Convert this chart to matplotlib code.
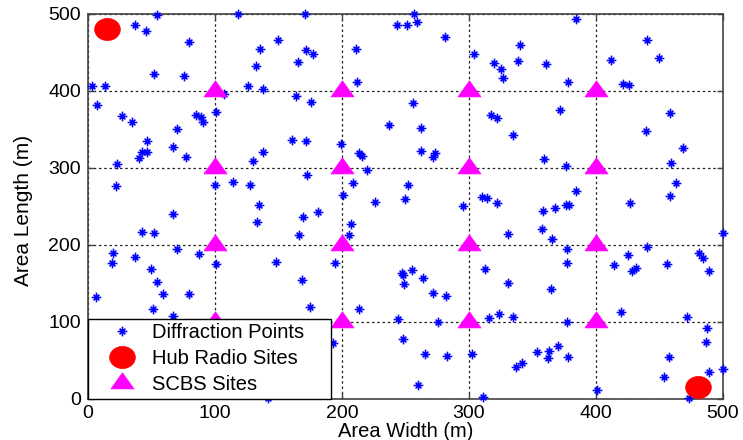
import numpy as np
import matplotlib
matplotlib.use("Agg")
import matplotlib.pyplot as plt
from matplotlib.path import Path

plt.rcParams['font.family'] = ['Liberation Sans', 'DejaVu Sans']

# Diffraction points (x, y) in metres
diff_x = [54.6, 37, 45.7, 79.5, 52, 75.3, 2.9, 13.4, 7.1, 26.5, 34.6, 69.8, 85, 88.7, 90.8,
          100.5, 107, 118, 135.4, 150, 132, 165, 126, 138, 163.8, 160.6,
          170.6, 256.7, 243, 251.4, 258.8, 281.4, 172, 177, 210.8, 211.8, 175.8, 256, 237.3,
          262.2, 171.7, 199.2, 304, 319.7, 325.5, 326.5, 317, 322,
          384.3, 340, 338.3, 361, 378, 412, 440, 449.3, 421.5, 426, 372, 458, 335, 439.4,
          46.2, 42.3, 46.2, 40.4, 67, 77, 23, 22, 99.7, 114, 127.6, 130, 137.5, 134.9, 133.3,
          67, 42.8, 52, 69.8, 87.4, 20, 19.2, 37, 49.6, 100.8, 148, 166.4,
          213.6, 215.5, 220, 172.7, 208.4, 201, 226.2, 252, 249.6, 262.2, 271.4, 273.5, 169.5,
          181, 207.3, 205.7, 194.2, 310, 314.4, 321.8, 295.5, 331, 312.6, 247.5, 255,
          359, 376.4, 468.3, 458.8, 462.7, 458.3, 384.3, 426.5, 358.5, 368, 376.4, 378.5, 357.7,
          365.6, 377.4, 376.9, 440.4, 425.4, 414.4, 431.5, 428, 456, 481, 484.5, 489.2, 499.8,
          54.3, 6, 58.8, 79.5, 51, 67.2, 142,
          168.5, 174.8, 213.6, 248.3, 249, 263.5, 271.4, 281.6, 243.9, 275.8, 248.3, 265.4,
          282.7, 260, 302.4, 311.3, 315.7, 323.9, 331, 192.7,
          364.3, 335, 377.4, 419.7, 471.4, 487.6, 486.6, 353.3, 363.2, 362.2, 370.3, 378.2,
          337, 341.5, 400.5, 457.7, 453.8, 489.2, 499.7, 473.5]
diff_y = [498, 486, 477, 463, 422, 419.7, 405.8, 405.8, 381, 367, 359.5, 350, 369, 366, 358.7,
          372.5, 396, 499, 454.8, 466.5, 432, 437.4, 405.8, 402.8, 393, 335.7,
          499, 499, 485, 485, 489, 470, 452.6, 448, 454, 411.4, 385.5, 384.6, 355,
          352, 334.4, 331, 448, 436.6, 428.8, 417, 368, 365,
          493, 459, 438.3, 434.8, 411.4, 439.6, 466.5, 442.6, 408.4, 407, 374.7, 370.4, 342, 347.8,
          334, 320.5, 319.7, 312, 327, 314, 304.5, 276.4, 278, 280.7, 278, 309, 320.5, 251.3, 228.8,
          240, 215.8, 215.3, 193.8, 187.3, 188.6, 175.6, 184, 168, 174.3, 177.7, 212.3,
          318.4, 315.3, 296.8, 291, 279.5, 264.3, 255.6, 277, 259, 321.8, 314, 319.2, 236,
          241.8, 226.2, 212.3, 176.4, 261.7, 260.8, 254, 250.4, 213.6, 168, 163.4, 166.9,
          310.6, 302, 325, 306.2, 279.5, 263, 270, 254.3, 244, 247.8, 251.3, 252, 219.7,
          206.7, 193.8, 176.4, 197, 186.4, 173.4, 169, 166, 174.7, 189.4, 182, 165.6, 215.3,
          150.9, 132.2, 135.3, 135.3, 115.8, 107.5, 1,
          153.9, 118.4, 115.8, 160.4, 148.3, 156, 136.6, 133.5, 103.2, 99, 77.3, 57.8,
          55.6, 17, 57.4, 1.5, 105, 109.7, 149.6, 71.7,
          142.2, 105.5, 99, 112.7, 105.5, 92, 73, 60.8, 61.7, 53, 68.2, 53.5,
          41.3, 46.5, 11, 53.5, 28.3, 34, 38, 0.3]

# Hub radio sites
hub_x = [15, 480]
hub_y = [480, 15]

# Small-cell base station sites on a regular 4 x 4 grid
scbs_grid = [100, 200, 300, 400]
scbs_x = [gx for gx in scbs_grid for gy in scbs_grid]
scbs_y = [gy for gx in scbs_grid for gy in scbs_grid]

ticks = [0, 100, 200, 300, 400, 500]

# Marker shapes: asterisk, flattened triangle, slightly flattened disc
star_marker = Path([(-1, 0), (1, 0), (0, -1), (0, 1),
                    (-0.6, -0.6), (0.6, 0.6), (-0.6, 0.6), (0.6, -0.6)],
                   [Path.MOVETO, Path.LINETO] * 4)
tri_marker = [(-1, -0.47), (1, -0.47), (0, 0.93), (-1, -0.47)]
t = np.linspace(0, 2 * np.pi, 64)
disc_marker = list(zip(np.cos(t), 0.86 * np.sin(t)))

fig = plt.figure(figsize=(7.43, 4.40), dpi=100)
ax = fig.add_axes([0.1184, 0.0943, 0.8546, 0.8745])

ax.plot(diff_x, diff_y, linestyle='none', marker=star_marker, markersize=7,
        markeredgecolor='#0000ff', markerfacecolor='none', markeredgewidth=1.15,
        clip_on=False, zorder=3, label='Diffraction Points')
ax.plot(hub_x, hub_y, linestyle='none', marker=disc_marker, markersize=18.5,
        markerfacecolor='#ff0000', markeredgecolor='#ff0000', markeredgewidth=0.5,
        zorder=4, label='Hub Radio Sites')
ax.plot(scbs_x, scbs_y, linestyle='none', marker=tri_marker, markersize=16.6,
        markerfacecolor='#ff00ff', markeredgecolor='#ff00ff', markeredgewidth=0.5,
        zorder=4, label='SCBS Sites')

ax.set_xlim(0, 500)
ax.set_ylim(0, 500)
ax.set_xticks(ticks)
ax.set_yticks(ticks)
ax.grid(True, color='#222222', linestyle=(0, (2, 2.2)), linewidth=0.9)
ax.set_axisbelow(True)

for sp in ax.spines.values():
    sp.set_color('#444444')
    sp.set_linewidth(1.2)
ax.tick_params(direction='in', length=4, width=1.0, color='#444444',
               top=True, right=True, labelsize=14, pad=5)

ax.set_xlabel('Area Width (m)', fontsize=14.5)
ax.set_ylabel('Area Length (m)', fontsize=15)
ax.xaxis.set_label_coords(0.5, -0.061)
ax.yaxis.set_label_coords(-0.087, 0.49)

leg = ax.legend(loc='lower left', bbox_to_anchor=(0, 0, 0.383, 0.2065), mode='expand',
                borderaxespad=0, fontsize=14.5, frameon=True, fancybox=False,
                framealpha=1, edgecolor='black', borderpad=0.2, labelspacing=0.36,
                handlelength=3.0, handletextpad=0.0)
leg.get_frame().set_linewidth(1.0)
leg.set_zorder(10)

fig.savefig('out.png', dpi=100)
